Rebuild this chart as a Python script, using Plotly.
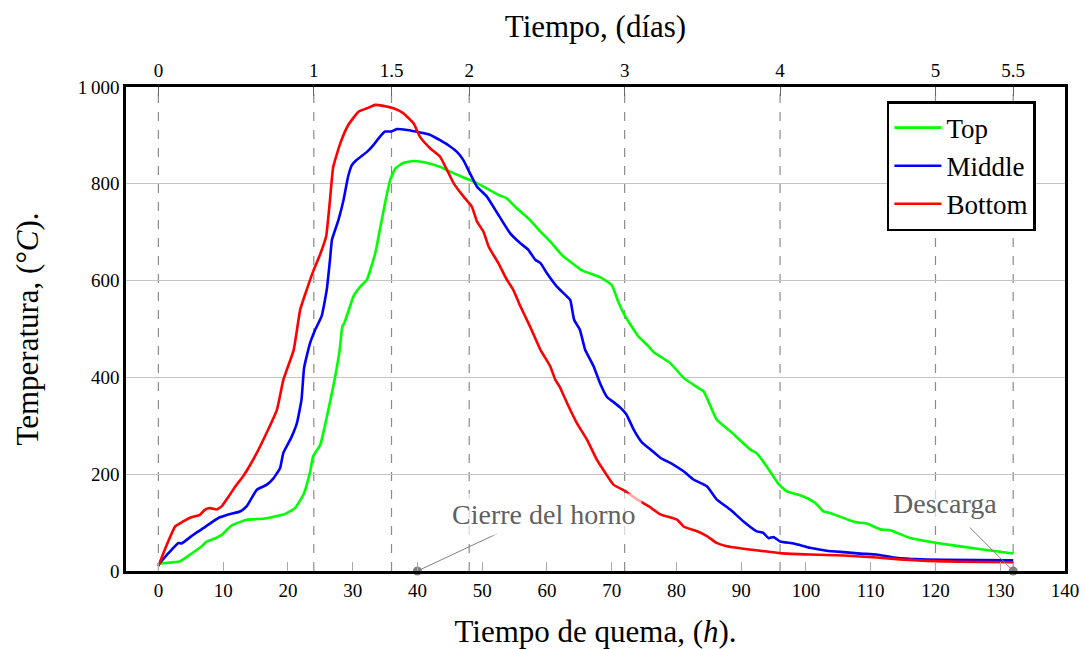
import plotly.graph_objects as go

# ---------------- data ----------------
top_h = [0, 3.35, 4.9, 6.4, 7.5, 8.5, 9.8, 11.3, 13.65, 16.2, 17.8, 19.6, 21.1, 22.4, 23.4, 23.9,
         25.0, 25.7, 26.8, 27.3, 28.0, 28.4, 28.7, 29.6, 30.1, 31.2, 32.2, 33.5, 34.2, 35.0, 35.8,
         36.6, 37.8, 39.4, 41.5, 43.5, 45.05, 46.6, 48.1, 50.2, 52.5, 53.8, 55.3, 57.4, 59.0, 60.5,
         62.3, 63.6, 65.4, 68.2, 70.0, 71.0, 72.1, 74.1, 75.7, 76.5, 79.0, 81.1, 82.6, 84.2, 86.2,
         88.3, 91.4, 92.4, 94.2, 95.75, 97.0, 99.6, 101.4, 102.7, 103.7, 105.3, 107.6, 109.4, 111.5,
         113.0, 116.1, 120.2, 126.4, 132]
top_t = [15, 20, 34, 48, 61, 66, 75, 94, 106, 108, 112, 118, 130, 158, 203, 237,
         261, 299, 368, 402, 457, 505, 512, 547, 567, 588, 602, 657, 705, 760, 808,
         832, 843, 847, 843, 835, 825, 816, 808, 794, 777, 770, 750, 725, 701, 681,
         653, 639, 621, 607, 591, 557, 526, 485, 464, 452, 430, 399, 385, 371, 313,
         289, 251, 243, 211, 180, 165, 154, 141, 123, 120, 112, 101, 98, 86,
         84, 68, 58, 46, 36]

mid_h = [0, 1.55, 3.1, 3.6, 5.4, 7.0, 8.5, 9.5, 11.1, 12.6, 13.65, 15.2, 16.7, 17.8, 18.8, 19.3,
         20.5, 21.4, 22.1, 22.5, 23.4, 24.2, 25.2, 26.0, 26.5, 26.8, 27.3, 27.8, 28.6, 29.3, 29.9,
         30.6, 32.2, 33.2, 34.0, 35.0, 36.0, 36.8, 38.4, 40.4, 42.0, 43.5, 45.05, 46.1, 47.1, 48.1,
         49.2, 50.7, 52.5, 54.3, 55.9, 57.1, 58.2, 59.0, 60.0, 61.5, 63.1, 63.6, 64.2, 65.1, 65.9,
         67.2, 68.2, 69.3, 70.2, 71.3, 72.3, 73.4, 74.7, 76.0, 77.5, 79.5, 81.1, 82.6, 84.7, 86.2,
         88.3, 90.3, 92.4, 93.4, 94.2, 95.0, 96.0, 98.1, 100.6, 103.2, 105.8, 108.4, 110.9, 113.5,
         116.1, 121.2, 132]
mid_t = [13, 37, 58, 57, 75, 89, 103, 111, 118, 123, 134, 168, 178, 192, 213, 244,
         275, 306, 354, 420, 470, 498, 526, 581, 643, 684, 705, 725, 767, 815, 839,
         849, 866, 880, 894, 908, 908, 913, 911, 906, 901, 890, 877, 866, 849, 822,
         794, 774, 736, 698, 677, 664, 643, 636, 615, 588, 567, 560, 519, 498, 457,
         423, 388, 359, 350, 338, 323, 292, 265, 251, 234, 220, 206, 189, 175, 148,
         127, 103, 82, 79, 68, 70, 61, 57, 48, 42, 39, 36, 34, 28,
         25, 23, 22]

bot_h = [0, 1.2, 2.6, 3.4, 4.9, 6.4, 7.2, 8.0, 9.0, 9.8, 10.8, 11.9, 13.1, 15.2, 16.7, 18.3, 19.3,
         20.9, 21.9, 22.9, 23.9, 25.0, 25.9, 26.5, 27.0, 28.1, 29.3, 30.9, 32.2, 33.5, 34.7, 36.3,
         37.8, 39.4, 40.4, 42.0, 43.5, 45.6, 47.1, 48.4, 49.2, 50.2, 51.0, 52.5, 53.8, 54.8, 55.9,
         57.4, 59.0, 60.5, 61.3, 62.0, 63.1, 64.6, 66.2, 67.7, 68.7, 70.3, 72.1, 73.9, 75.7, 77.5,
         80.1, 81.1, 83.2, 84.7, 86.2, 87.8, 90.3, 92.9, 96.0, 100.6, 105.8, 110.9, 114.5, 118.7,
         123.8, 132]
bot_t = [10, 51, 92, 99, 110, 116, 127, 130, 127, 134, 153, 175, 196, 244, 285, 333, 395,
         457, 540, 581, 619, 655, 691, 767, 835, 884, 921, 949, 956, 963, 961, 956,
         946, 925, 897, 873, 856, 801, 774, 753, 722, 701, 670, 636, 602, 581, 547,
         505, 457, 423, 395, 380, 347, 306, 271, 230, 209, 178, 165, 148, 134, 117,
         106, 92, 82, 72, 58, 51, 46, 42, 37, 34, 32, 28, 24, 21,
         19, 18]

day_hours = [0, 24, 36, 48, 72, 96, 120, 132]
day_labels = ["0", "1", "1.5", "2", "3", "4", "5", "5.5"]
x_ticks = list(range(0, 141, 10))
y_ticks = [0, 200, 400, 600, 800, 1000]
y_labels = ["0", "200", "400", "600", "800", "1\u2009000"]

events_h = [40, 132]
events_t = [0, 0]
event_labels = ["Cierre del horno", "Descarga"]
label_pos_h = [59.6, 121.5]
label_pos_t = [117, 140]
line_end_h = [52.3, 125.3]
line_end_t = [77, 90]

FONT = "Liberation Serif"
fig = go.Figure()

series = [("Top", top_h, top_t, "#00ff00"),
          ("Middle", mid_h, mid_t, "#0000ff"),
          ("Bottom", bot_h, bot_t, "#ff0000")]
for name, xs, ys, col in series:
    fig.add_trace(go.Scatter(x=xs, y=ys, mode="lines", name=name,
                             line=dict(color=col, width=2.6, shape="spline", smoothing=0.4)))

# annotation connector lines
for i in range(2):
    fig.add_shape(type="line", xref="x", yref="y", x0=events_h[i], y0=events_t[i],
                  x1=line_end_h[i], y1=line_end_t[i], line=dict(color="#808080", width=1), layer="above")

fig.add_trace(go.Scatter(x=events_h, y=events_t, mode="markers", showlegend=False,
                         marker=dict(color="#808080", size=9), cliponaxis=False, hoverinfo="skip"))

# invisible trace for top axis
fig.add_trace(go.Scatter(x=[0, 132], y=[0, 0], xaxis="x2", mode="lines", showlegend=False,
                         line=dict(color="rgba(0,0,0,0)"), hoverinfo="skip"))

for i in range(2):
    fig.add_annotation(x=label_pos_h[i], y=label_pos_t[i], xref="x", yref="y",
                       text=event_labels[i], showarrow=False,
                       font=dict(family=FONT, size=28, color="#606060"),
                       bgcolor="rgba(255,255,255,0.65)", borderpad=5)

for h in day_hours:
    fig.add_shape(type="line", xref="x", yref="paper", x0=h, x1=h, y0=0, y1=1,
                  line=dict(color="#8c8c8c", width=1.2, dash="dash"), layer="below")

fig.update_layout(
    width=1086, height=649,
    margin=dict(l=126, r=21, t=87, b=78),
    paper_bgcolor="white", plot_bgcolor="white",
    font=dict(family=FONT, color="black", size=19),
    showlegend=True,
    legend=dict(x=0.969, y=0.971, xanchor="right", yanchor="top",
                bordercolor="black", borderwidth=2.5, bgcolor="white",
                font=dict(family=FONT, size=27), tracegroupgap=0, itemwidth=47,
                entrywidth=118, entrywidthmode="pixels"),
    xaxis=dict(range=[-5, 140], tickvals=x_ticks, ticks="inside", ticklen=9,
               tickcolor="#aaaaaa", tickwidth=1.2, showgrid=False, zeroline=False,
               showline=True, linecolor="black", linewidth=2.5, mirror=True,
               tickfont=dict(size=19), automargin=False,
               title=dict(text="Tiempo de quema, (<i>h</i>).", font=dict(size=31), standoff=22)),
    xaxis2=dict(range=[-5, 140], overlaying="x", side="top", anchor="y",
                tickvals=day_hours, ticktext=day_labels, ticks="inside", ticklen=9,
                tickcolor="#666666", showgrid=False, zeroline=False, showline=False,
                tickfont=dict(size=19), ticklabelstandoff=5, automargin=False,
                title=dict(text="Tiempo, (días)", font=dict(size=31), standoff=13)),
    yaxis=dict(range=[0, 1000], tickvals=y_ticks, ticktext=y_labels, ticks="",
               showgrid=True, gridcolor="#c4c4c4", gridwidth=1, zeroline=False,
               showline=True, linecolor="black", linewidth=2.5, mirror=True,
               tickfont=dict(size=19), automargin=False,
               title=dict(text="Temperatura, (°<i>C</i>).", font=dict(size=31), standoff=30)),
)

fig.write_html("out.html")
